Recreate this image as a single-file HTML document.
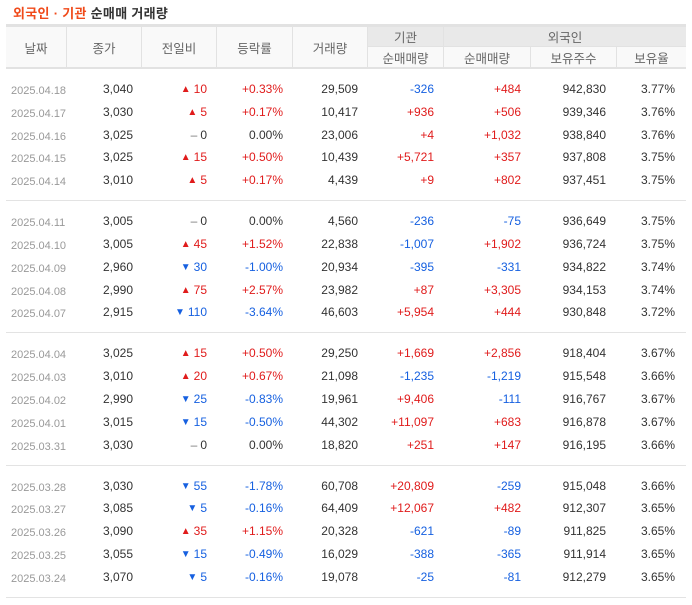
<!DOCTYPE html>
<html><head><meta charset="utf-8">
<style>
body{margin:0;background:#fff;width:692px;height:605px;overflow:hidden;font-family:"Liberation Sans","Noto Sans CJK KR",sans-serif;}
#title{position:absolute;left:13px;top:3px;font-size:13px;font-weight:bold;color:#333;letter-spacing:0.3px}
#title span{color:#f04a1a}
#tbl{position:absolute;left:6px;top:24px;width:680px}
.hd{position:absolute;box-sizing:border-box;font-size:12.5px;color:#666;text-align:center;border-right:1px solid #e2e2e2;display:flex;align-items:center;justify-content:center}
.row{position:absolute;left:0;width:680px;height:23px;font-size:12px;color:#333}
.c{position:absolute;top:0;line-height:23px;text-align:right;white-space:nowrap}
.red{color:#e01b1b}.blue{color:#1660e0}.gray{color:#999}
.sep{position:absolute;left:0;width:680px;height:1px;background:#e3e3e3}
.tri{font-size:10px;margin-right:3px;position:relative;top:-1px}
</style></head><body>
<div id="title"><span>외국인 · 기관</span> 순매매 거래량</div>
<div id="tbl">
  <div style="position:absolute;left:0;top:0;width:680px;height:3px;background:#e2e2e2"></div>
  <div style="position:absolute;left:0;top:3px;width:680px;height:41px;background:#f9f9f9"></div>
  <div style="position:absolute;left:362px;top:3px;width:318px;height:20px;background:#e9e9e9"></div>
  <div class="hd" style="left:0;top:3px;width:61px;height:41px">날짜</div>
  <div class="hd" style="left:61px;top:3px;width:75px;height:41px">종가</div>
  <div class="hd" style="left:136px;top:3px;width:75px;height:41px">전일비</div>
  <div class="hd" style="left:211px;top:3px;width:76px;height:41px">등락률</div>
  <div class="hd" style="left:287px;top:3px;width:75px;height:41px">거래량</div>
  <div class="hd" style="left:362px;top:3px;width:76px;height:20px;border-bottom:1px solid #e2e2e2">기관</div>
  <div class="hd" style="left:438px;top:3px;width:242px;height:20px;border-right:none;border-bottom:1px solid #e2e2e2">외국인</div>
  <div class="hd" style="left:362px;top:23px;width:76px;height:21px">순매매량</div>
  <div class="hd" style="left:438px;top:23px;width:87px;height:21px">순매매량</div>
  <div class="hd" style="left:525px;top:23px;width:86px;height:21px">보유주수</div>
  <div class="hd" style="left:611px;top:23px;width:69px;height:21px;border-right:none">보유율</div>
  <div style="position:absolute;left:0;top:43px;width:680px;height:2px;background:#e2e2e2"></div>
</div>
<script>
const dates=["2025.04.18","2025.04.17","2025.04.16","2025.04.15","2025.04.14","2025.04.11","2025.04.10","2025.04.09","2025.04.08","2025.04.07","2025.04.04","2025.04.03","2025.04.02","2025.04.01","2025.03.31","2025.03.28","2025.03.27","2025.03.26","2025.03.25","2025.03.24"];
const closes=[3040,3030,3025,3025,3010,3005,3005,2960,2990,2915,3025,3010,2990,3015,3030,3030,3085,3090,3055,3070];
const changes=[10,5,0,15,5,0,45,-30,75,-110,15,20,-25,-15,0,-55,-5,35,-15,-5];
const rates=[0.33,0.17,0.00,0.50,0.17,0.00,1.52,-1.00,2.57,-3.64,0.50,0.67,-0.83,-0.50,0.00,-1.78,-0.16,1.15,-0.49,-0.16];
const volumes=[29509,10417,23006,10439,4439,4560,22838,20934,23982,46603,29250,21098,19961,44302,18820,60708,64409,20328,16029,19078];
const instNet=[-326,936,4,5721,9,-236,-1007,-395,87,5954,1669,-1235,9406,11097,251,20809,12067,-621,-388,-25];
const foreignNet=[484,506,1032,357,802,-75,1902,-331,3305,444,2856,-1219,-111,683,147,-259,482,-89,-365,-81];
const holdings=[942830,939346,938840,937808,937451,936649,936724,934822,934153,930848,918404,915548,916767,916878,916195,915048,912307,911825,911914,912279];
const holdRates=[3.77,3.76,3.76,3.75,3.75,3.75,3.75,3.74,3.74,3.72,3.67,3.66,3.67,3.67,3.66,3.66,3.65,3.65,3.65,3.65];

const tbl=document.getElementById('tbl');
const fmt=n=>Math.abs(n).toLocaleString('en-US');
const sgn=n=>n>0?'+'+fmt(n):n<0?'-'+fmt(n):'0';
const cls=n=>n>0?'red':n<0?'blue':'';
function cell(row,right,html,c,name){
  const d=document.createElement('div');
  d.className='c '+(c||'');
  d.style.right=right+'px';
  d.innerHTML=html;
  
  
  row.appendChild(d);
}
const groupH=132.2, rowH=22.8, top0=45, R=686;
dates.forEach((dt,i)=>{
  const g=Math.floor(i/5), k=i%5;
  const y=top0+g*groupH+9+k*rowH;
  const r=document.createElement('div');
  r.className='row';
  r.style.top=y+'px';
  
  
  const d=document.createElement('div');
  d.className='c gray';d.style.left='5px';d.style.fontSize='11px';d.style.top='2px';d.textContent=dt;
  
  
  r.appendChild(d);
  cell(r,R-133,fmt(closes[i]),'','close-cell');
  const ch=changes[i];
  const tri=ch>0?'<span class="tri">▲</span>':ch<0?'<span class="tri">▼</span>':'<span style="color:#777;margin-right:3px">–</span>';
  cell(r,R-207,tri+fmt(ch),cls(ch),'change-cell');
  const rt=rates[i];
  cell(r,R-283,(rt>0?'+':rt<0?'-':'')+Math.abs(rt).toFixed(2)+'%',cls(rt),'rate-cell');
  cell(r,R-358,fmt(volumes[i]),'','volume-cell');
  cell(r,R-434,sgn(instNet[i]),cls(instNet[i]),'inst-net-cell');
  cell(r,R-521,sgn(foreignNet[i]),cls(foreignNet[i]),'foreign-net-cell');
  cell(r,R-606,fmt(holdings[i]),'','holdings-cell');
  cell(r,R-675,holdRates[i].toFixed(2)+'%','','holding-rate-cell');
  tbl.appendChild(r);
});
for(let g=1;g<=4;g++){
  const s=document.createElement('div');
  s.className='sep';
  s.style.top=(top0+g*groupH-1)+'px';
  
  
  tbl.appendChild(s);
}
</script>
</body></html>
